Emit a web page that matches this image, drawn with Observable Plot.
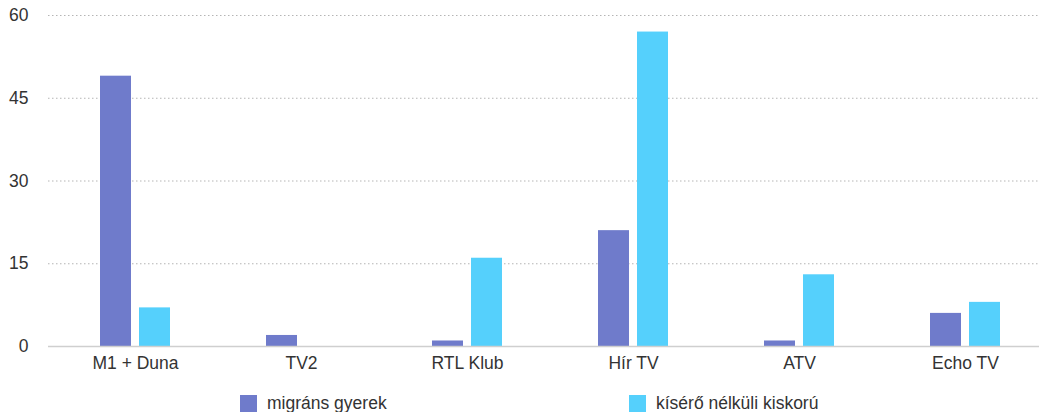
<!DOCTYPE html>
<html>
<head>
<meta charset="utf-8">
<script src="https://cdn.jsdelivr.net/npm/d3@7"></script>
<script src="https://cdn.jsdelivr.net/npm/@observablehq/plot@0.6"></script>
<style>
  html, body { margin: 0; padding: 0; background: #fff; }
  #wrap { position: relative; width: 1039px; height: 412px; font-family: "Liberation Sans", Arial, sans-serif; color: #333; }
  .leg { position: absolute; top: 393px; display: flex; align-items: center; font-size: 17.5px; color: #333; }
  .sw { width: 17px; height: 17px; margin-right: 10px; }
</style>
</head>
<body>
<div id="wrap"></div>
<script>
const categories = ["M1 + Duna", "TV2", "RTL Klub", "Hír TV", "ATV", "Echo TV"];
const migransGyerek = [49, 2, 1, 21, 1, 6];
const kiseroNelkuli = [7, 0, 16, 57, 13, 8];
const yTicks = [0, 15, 30, 45, 60];
const seriesNames = ["migráns gyerek", "kísérő nélküli kiskorú"];
const colors = ["#6f7bcb", "#55d0fc"];

const dataA = categories.map((c, i) => ({cat: c, v: migransGyerek[i]}));
const dataB = categories.map((c, i) => ({cat: c, v: kiseroNelkuli[i]}));

const chart = Plot.plot({
  width: 1039,
  height: 385,
  marginTop: 15,
  marginBottom: 39,
  marginLeft: 48,
  marginRight: 0,
  style: {fontFamily: "Liberation Sans, Arial, sans-serif", fontSize: "17px", color: "#333", background: "#fff"},
  x: {domain: categories, range: [52.5, 1048.5], paddingInner: 0.578, paddingOuter: 0.289, label: null},
  y: {domain: [0, 60], label: null},
  marks: [
    Plot.ruleY(yTicks.filter(d => d > 0), {stroke: "#b5b5b5", strokeDasharray: "1.5,2.5", strokeWidth: 1}),
    Plot.barY(dataA, {x: "cat", y: "v", fill: colors[0], insetRight: 39}),
    Plot.barY(dataB, {x: "cat", y: "v", fill: colors[1], insetLeft: 39}),
    Plot.ruleY([0], {stroke: "#cfcfcf", strokeWidth: 1.5}),
    Plot.axisY({ticks: yTicks, tickSize: 0, tickPadding: 20, fontSize: 17.5, fill: "#333", label: null}),
    Plot.axisX({tickSize: 0, tickPadding: 10, fontSize: 17.5, fill: "#333", label: null})
  ]
});
const wrap = document.getElementById("wrap");
wrap.appendChild(chart);

const legX = [240, 629];
seriesNames.forEach((name, i) => {
  const d = document.createElement("div");
  d.className = "leg";
  d.style.left = legX[i] + "px";
  const sw = document.createElement("div");
  sw.className = "sw";
  sw.style.background = colors[i];
  const t = document.createElement("span");
  t.textContent = name;
  d.appendChild(sw);
  d.appendChild(t);
  wrap.appendChild(d);
});
</script>
</body>
</html>
